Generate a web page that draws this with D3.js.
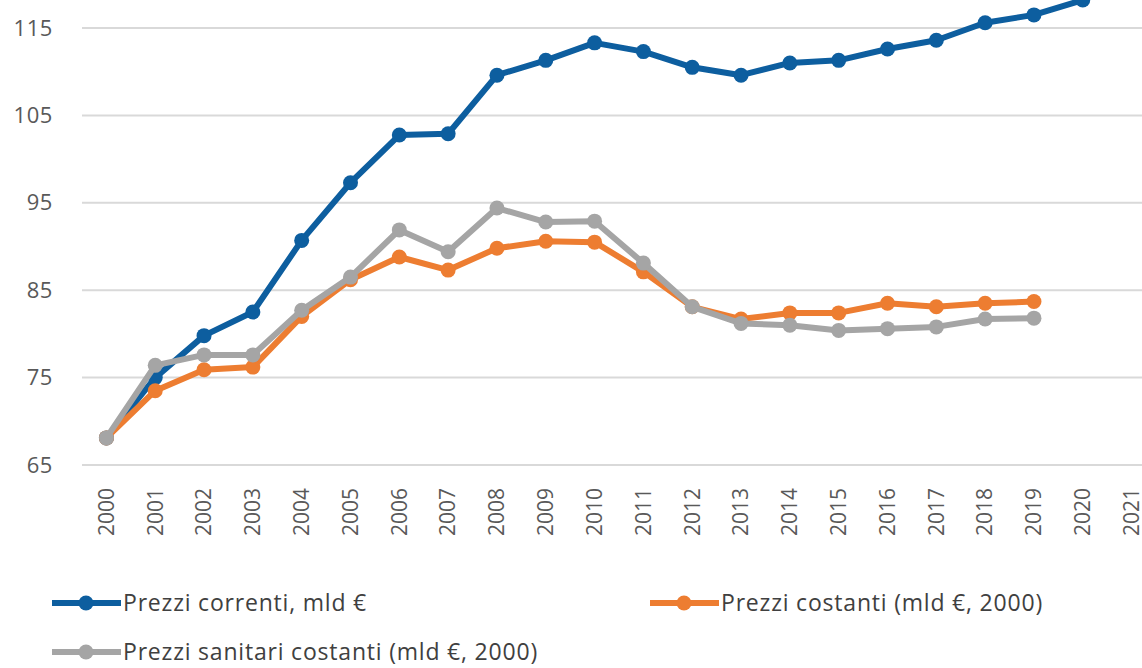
<!DOCTYPE html>
<html lang="it">

<head>
  <title></title>
  <meta charset="UTF-8">
  <style>
    body {
      margin: 0;
      background: #fff;
    }
  </style>
</head>

<body>
  <div id="container"></div>
  <script src="https://cdn.jsdelivr.net/npm/d3@7"></script>
  <script>
    const years = ['2000', '2001', '2002', '2003', '2004', '2005', '2006', '2007', '2008', '2009', '2010',
      '2011', '2012', '2013', '2014', '2015', '2016', '2017', '2018', '2019', '2020', '2021'];
    const yTicks = [65, 75, 85, 95, 105, 115];
    const correnti = [68.1, 75.0, 79.8, 82.5, 90.7, 97.3, 102.75, 102.9, 109.6, 111.3, 113.3,
      112.3, 110.5, 109.6, 111.0, 111.3, 112.6, 113.6, 115.6, 116.5, 118.2];
    const costanti = [68.1, 73.5, 75.9, 76.2, 82.0, 86.2, 88.8, 87.3, 89.8, 90.6, 90.5,
      87.1, 83.1, 81.7, 82.4, 82.4, 83.5, 83.1, 83.5, 83.7];
    const sanitari = [68.1, 76.4, 77.6, 77.6, 82.7, 86.5, 91.9, 89.4, 94.4, 92.8, 92.9,
      88.1, 83.1, 81.2, 81.0, 80.4, 80.6, 80.8, 81.7, 81.8];
    const seriesNames = ['Prezzi correnti, mld €', 'Prezzi costanti (mld €, 2000)', 'Prezzi sanitari costanti (mld €, 2000)'];
    const colors = ['#0d5e9f', '#ed7d31', '#a5a5a5'];

    const width = 1142, height = 668;
    const plot = { left: 82, right: 1156, top: 28, bottom: 465 };
    const font = '"Open Sans", sans-serif';

    const svg = d3.select('#container').append('svg')
      .attr('width', width)
      .attr('height', height);

    const x = d3.scaleBand()
      .domain(years)
      .range([plot.left, plot.right]);
    const y = d3.scaleLinear()
      .domain([65, 115])
      .range([plot.bottom, plot.top]);

    // gridlines
    svg.append('g')
      .selectAll('line')
      .data(yTicks)
      .join('line')
      .attr('x1', plot.left)
      .attr('x2', width)
      .attr('y1', d => y(d))
      .attr('y2', d => y(d))
      .style('stroke', '#d9d9d9')
      .style('stroke-width', 2);

    // y axis labels
    const yAxis = svg.append('g')
      .attr('transform', `translate(${plot.left - 29},0)`)
      .call(d3.axisLeft(y).tickValues(yTicks).tickSize(0).tickPadding(0));
    yAxis.select('.domain').remove();
    yAxis.selectAll('text')
      .style('font-family', font)
      .style('font-size', '22px')
      .style('letter-spacing', '0.6px')
      .style('fill', '#595959');

    // x axis labels
    const xAxis = svg.append('g')
      .attr('transform', `translate(0,${plot.bottom})`)
      .call(d3.axisBottom(x).tickSize(0).tickPadding(0));
    xAxis.select('.domain').remove();
    xAxis.selectAll('text')
      .attr('transform', 'rotate(-90)')
      .attr('x', -23)
      .attr('y', 0)
      .attr('dy', '0.35em')
      .style('text-anchor', 'end')
      .style('font-family', font)
      .style('font-size', '21px')
      .style('fill', '#595959');

    const allSeries = [correnti, costanti, sanitari];
    const line = d3.line()
      .x((d, i) => x(years[i]) + x.bandwidth() / 2)
      .y(d => y(d));

    // series in order: blue, orange, grey on top
    [0, 1, 2].forEach(s => {
      const g = svg.append('g');
      g.append('path')
        .datum(allSeries[s])
        .attr('d', line)
        .style('fill', 'none')
        .style('stroke', colors[s])
        .style('stroke-width', 6)
        .style('stroke-linejoin', 'round');
      g.selectAll('circle')
        .data(allSeries[s])
        .join('circle')
        .attr('cx', (d, i) => x(years[i]) + x.bandwidth() / 2)
        .attr('cy', d => y(d))
        .attr('r', 7.5)
        .style('fill', colors[s]);
    });

    // legend
    const legendPos = [[52, 603], [650, 603], [52, 652]];
    seriesNames.forEach((name, s) => {
      const [lx, ly] = legendPos[s];
      const g = svg.append('g').attr('transform', `translate(${lx},${ly})`);
      g.append('line')
        .attr('x1', 0).attr('x2', 69)
        .attr('y1', 0).attr('y2', 0)
        .style('stroke', colors[s])
        .style('stroke-width', 6);
      g.append('circle')
        .attr('cx', 34).attr('cy', 0).attr('r', 7.5)
        .style('fill', colors[s]);
      g.append('text')
        .attr('x', 71)
        .attr('y', 0)
        .attr('dy', '0.35em')
        .style('font-family', font)
        .style('font-size', '23px')
        .style('letter-spacing', '0.8px')
        .style('fill', '#404040')
        .text(name);
    });
  </script>
</body>

</html>
